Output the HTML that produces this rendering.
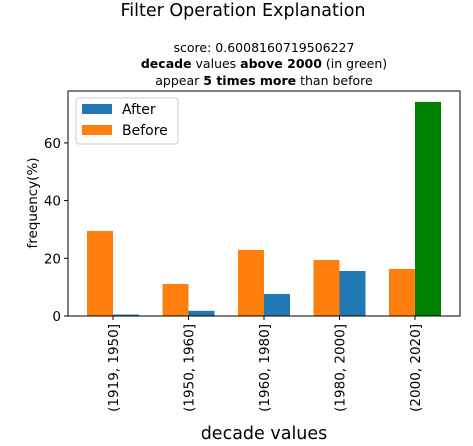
<!DOCTYPE html>
<html><head><meta charset="utf-8"><style>
body{margin:0;background:#fff;font-family:"DejaVu Sans","Liberation Sans",sans-serif}
</style></head><body>
<svg id="c" width="473" height="442" xmlns="http://www.w3.org/2000/svg" font-family="DejaVu Sans, Liberation Sans, sans-serif">
<text x="243" y="16" font-size="17.5" text-anchor="middle">Filter Operation Explanation</text>
<text x="264" y="52" font-size="12.5" text-anchor="middle">score: 0.6008160719506227</text>
<text x="264" y="68" font-size="12.5" text-anchor="middle"><tspan font-weight="bold">decade</tspan> values <tspan font-weight="bold">above 2000</tspan> (in green)</text>
<text x="264" y="85" font-size="12.5" text-anchor="middle">appear <tspan font-weight="bold">5 times more</tspan> than before</text>
<g id="plot"></g>
<text transform="translate(37,203) rotate(-90)" font-size="13.5" text-anchor="middle">frequency(%)</text>
<text x="264" y="439" font-size="17.5" text-anchor="middle">decade values</text>
<g>
<rect x="76" y="98" width="102" height="46" fill="#fff" stroke="#ccc" rx="3"/>
<rect x="82" y="104" width="30" height="10" fill="#1f77b4"/>
<text x="122" y="114" font-size="14">After</text>
<rect x="82" y="125" width="30" height="10" fill="#ff7f0e"/>
<text x="122" y="135" font-size="14">Before</text>
</g>
</svg>
<script>
const categories=["(1919, 1950]","(1950, 1960]","(1960, 1980]","(1980, 2000]","(2000, 2020]"];
const beforeValues=[29.5,11.1,22.9,19.4,16.3];
const afterValues=[0.5,1.8,7.6,15.6,74.2];
const yTicks=[0,20,40,60];
const L=68,R=460,T=91,B=316;
const NS="http://www.w3.org/2000/svg";
const g=document.getElementById('plot');
const ys=v=>B-v*2.885;
const xc=i=>113+75.5*i;
function mk(t,a){const e=document.createElementNS(NS,t);for(const k in a)e.setAttribute(k,a[k]);g.appendChild(e);return e;}
const bw=26;
categories.forEach((c,i)=>{
  let r=mk('rect',{x:xc(i)-bw,y:ys(beforeValues[i]),width:bw,height:B-ys(beforeValues[i]),fill:'#ff7f0e'});
  
  
  const green=i===categories.length-1;
  let a=mk('rect',{x:xc(i),y:ys(afterValues[i]),width:bw,height:B-ys(afterValues[i]),fill:green?'#008000':'#1f77b4'});
  
  
  let tk=mk('line',{x1:xc(i),x2:xc(i),y1:B,y2:B+4,stroke:'#000'});
  
  
  let t=mk('text',{transform:`translate(${xc(i)+5},${B+8}) rotate(-90)`,'font-size':13.5,'text-anchor':'end'});
  t.textContent=c;
  
  
});
yTicks.forEach(v=>{
  let tk=mk('line',{x1:L-4,x2:L,y1:ys(v),y2:ys(v),stroke:'#000'});
  
  
  let t=mk('text',{x:L-7,y:ys(v)+5,'font-size':13.5,'text-anchor':'end'});
  t.textContent=v;
  
  
});
let fr=mk('rect',{x:L,y:T,width:R-L,height:B-T,fill:'none',stroke:'#000','stroke-width':1});


</script>
</body></html>
